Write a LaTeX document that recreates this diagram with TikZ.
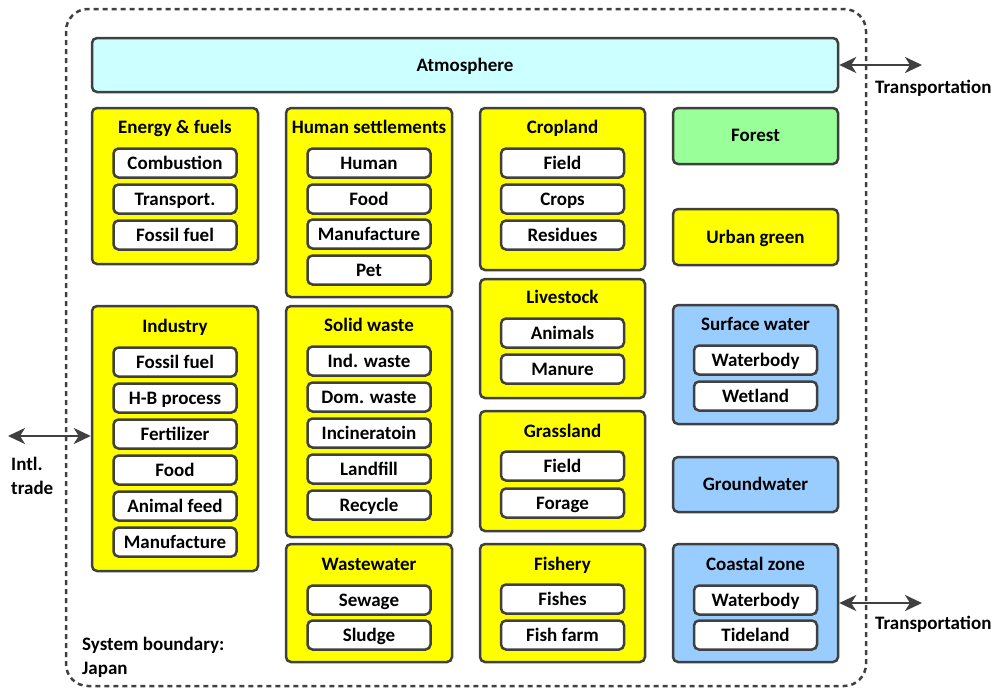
\documentclass[tikz,border=0pt]{standalone}
\usepackage{fontspec}
\setmainfont{Carlito}
\usetikzlibrary{arrows.meta}
\definecolor{ln}{HTML}{404040}
\definecolor{yel}{HTML}{FFFF00}
\definecolor{cyn}{HTML}{CCFFFF}
\definecolor{grn}{HTML}{99FF99}
\definecolor{blu}{HTML}{99CCFF}
\tikzset{
  grp/.style={draw=ln, line width=2.5pt, rounded corners=5pt, inner sep=0pt},
  yg/.style={grp, fill=yel},
  ttl/.style={inner sep=0pt, text height=12pt, text depth=0pt, font=\fontsize{19}{22}\selectfont\bfseries},
  sub/.style={draw=ln, line width=2.5pt, rounded corners=5pt, fill=white, minimum width=123pt, minimum height=29pt, inner sep=0pt, text height=12pt, text depth=0pt, font=\fontsize{19}{22}\selectfont\bfseries},
  lbl/.style={inner sep=0pt, font=\fontsize{19}{24}\selectfont\bfseries, align=left},
  dbl/.style={ln, line width=2.5pt, {Stealth[length=17pt,width=16pt,inset=5pt]}-{Stealth[length=17pt,width=16pt,inset=5pt]}}
}
\begin{document}
\begin{tikzpicture}[x=1pt,y=-1pt]
\useasboundingbox (0,0) rectangle (1000,688);
% boundary
\draw[ln, line width=2.5pt, dash pattern=on 5pt off 4pt, rounded corners=22pt] (66,9) rectangle (866,686);
% atmosphere
\node[grp, fill=cyn, minimum width=746pt, minimum height=54pt] (atm) at (465,65) {};
\node[ttl] (atmt) at (465,65) {Atmosphere};
% column 1
\node[yg, minimum width=166pt, minimum height=156pt] (ef) at (175,186) {};
\node[ttl] (eft) at (175,127) {Energy \& fuels};
\node[sub] (ef1) at (175,163) {Combustion};
\node[sub] (ef2) at (175,199) {Transport.};
\node[sub] (ef3) at (175,235) {Fossil fuel};
\node[yg, minimum width=166pt, minimum height=265pt] (ind) at (175,438.5) {};
\node[ttl] (indt) at (175,326) {Industry};
\node[sub] (ind1) at (175,362) {Fossil fuel};
\node[sub] (ind2) at (175,398) {H-B process};
\node[sub] (ind3) at (175,434) {Fertilizer};
\node[sub] (ind4) at (175,470) {Food};
\node[sub] (ind5) at (175,506) {Animal feed};
\node[sub] (ind6) at (175,542) {Manufacture};
% column 2
\node[yg, minimum width=166pt, minimum height=189pt] (hs) at (369,202.5) {};
\node[ttl] (hst) at (369,127) {Human settlements};
\node[sub] (hs1) at (369,163) {Human};
\node[sub] (hs2) at (369,199) {Food};
\node[sub] (hs3) at (369,234) {Manufacture};
\node[sub] (hs4) at (369,270) {Pet};
\node[yg, minimum width=166pt, minimum height=231pt] (sw) at (369,421.5) {};
\node[ttl] (swt) at (369,325) {Solid waste};
\node[sub] (sw1) at (369,361) {Ind. waste};
\node[sub] (sw2) at (369,397) {Dom. waste};
\node[sub] (sw3) at (369,433) {Incineratoin};
\node[sub] (sw4) at (369,469) {Landfill};
\node[sub] (sw5) at (369,505) {Recycle};
\node[yg, minimum width=166pt, minimum height=118pt] (ww) at (369,603) {};
\node[ttl] (wwt) at (369,564) {Wastewater};
\node[sub] (ww1) at (369,600) {Sewage};
\node[sub] (ww2) at (369,635) {Sludge};
% column 3
\node[yg, minimum width=165pt, minimum height=162pt] (cl) at (562.5,189) {};
\node[ttl] (clt) at (562.5,127) {Cropland};
\node[sub] (cl1) at (562.5,163) {Field};
\node[sub] (cl2) at (562.5,199) {Crops};
\node[sub] (cl3) at (562.5,235) {Residues};
\node[yg, minimum width=165pt, minimum height=119pt] (ls) at (562.5,338.5) {};
\node[ttl] (lst) at (562.5,297) {Livestock};
\node[sub] (ls1) at (562.5,333) {Animals};
\node[sub] (ls2) at (562.5,369) {Manure};
\node[yg, minimum width=165pt, minimum height=120pt] (gl) at (562.5,471) {};
\node[ttl] (glt) at (562.5,431) {Grassland};
\node[sub] (gl1) at (562.5,466) {Field};
\node[sub] (gl2) at (562.5,503) {Forage};
\node[yg, minimum width=165pt, minimum height=118pt] (fi) at (562.5,603) {};
\node[ttl] (fit) at (562.5,564) {Fishery};
\node[sub] (fi1) at (562.5,599) {Fishes};
\node[sub] (fi2) at (562.5,635) {Fish farm};
% column 4
\node[grp, fill=grn, minimum width=165pt, minimum height=56pt] (fo) at (755.5,136) {};
\node[ttl] (fot) at (755.5,135) {Forest};
\node[yg, minimum width=165pt, minimum height=56pt] (ug) at (755.5,237) {};
\node[ttl] (ugt) at (755.5,237) {Urban green};
\node[grp, fill=blu, minimum width=165pt, minimum height=119pt] (su) at (755.5,364.5) {};
\node[ttl] (sut) at (755.5,324) {Surface water};
\node[sub] (su1) at (755.5,360) {Waterbody};
\node[sub] (su2) at (755.5,396) {Wetland};
\node[grp, fill=blu, minimum width=165pt, minimum height=55pt] (gw) at (755.5,484.5) {};
\node[ttl] (gwt) at (755.5,484) {Groundwater};
\node[grp, fill=blu, minimum width=165pt, minimum height=118pt] (cz) at (755.5,603) {};
\node[ttl] (czt) at (755.5,564) {Coastal zone};
\node[sub] (cz1) at (755.5,600) {Waterbody};
\node[sub] (cz2) at (755.5,635) {Tideland};
% arrows
\coordinate (tr1) at (922,65);
\coordinate (tr2) at (922,603);
\coordinate (it) at (8,436);
\draw[dbl] (atm.east) -- (tr1);
\draw[dbl] (cz.east) -- (tr2);
\draw[dbl] (it) -- (ind.west |- it);
% labels
\node[lbl, anchor=west] (trl1) at (875,88) {Transportation};
\node[lbl, anchor=west] (trl2) at (875,624) {Transportation};
\node[lbl, anchor=north west] (itl) at (11,457) {Intl.\\trade};
\node[lbl, anchor=north west] (sbl) at (82,637) {System boundary:\\Japan};
\end{tikzpicture}
\end{document}
